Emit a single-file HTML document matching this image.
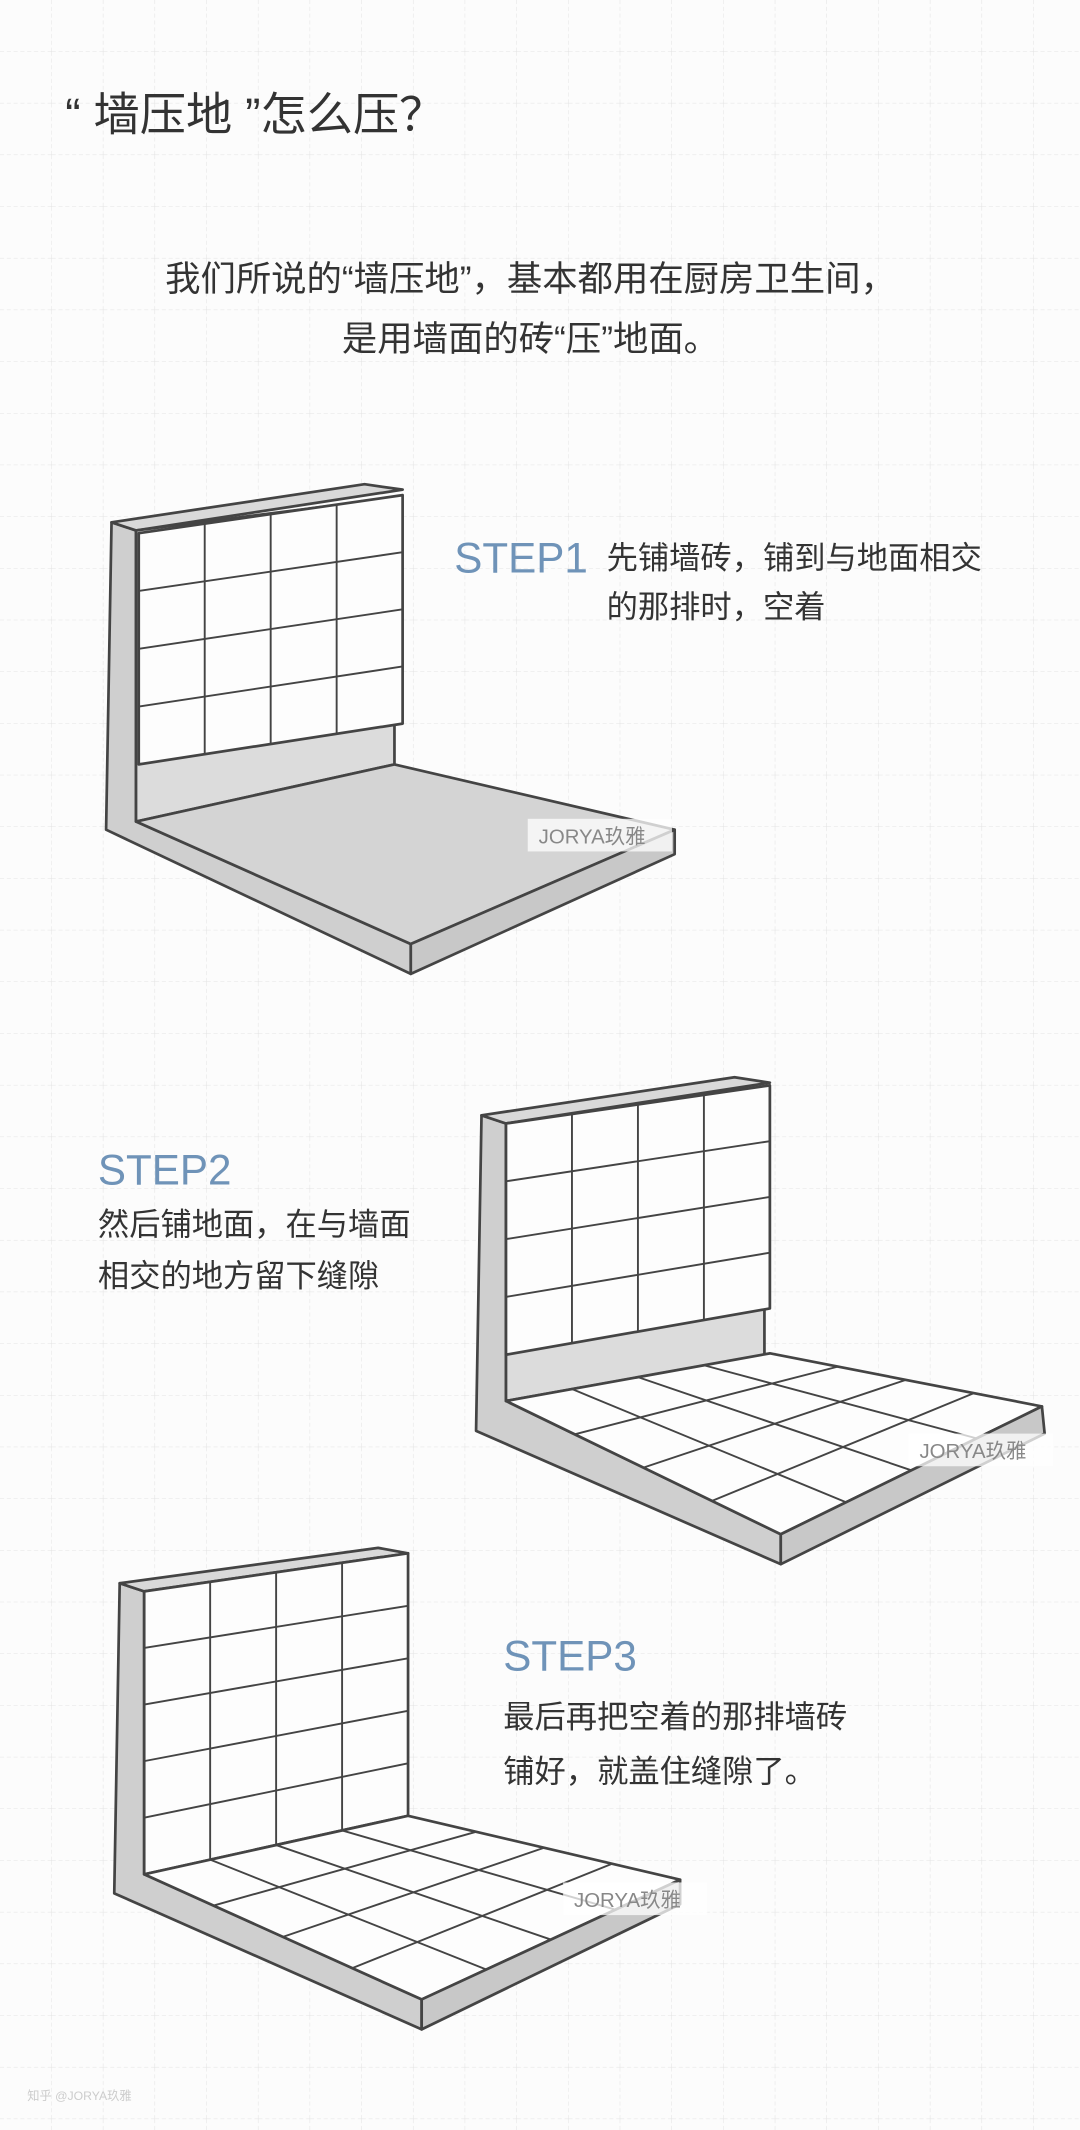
<!DOCTYPE html>
<html><head><meta charset="utf-8"><style>
html,body{margin:0;padding:0;background:#fcfcfc;}
svg{display:block;}
.t{font-family:"Liberation Sans","Noto Sans CJK SC",sans-serif;fill:#333;}
.s{font-family:"Liberation Sans","Noto Sans CJK SC",sans-serif;fill:#6f93b8;}
</style></head><body>
<svg id="sv" width="1080" height="2130" viewBox="0 0 794 1566" preserveAspectRatio="none" xmlns="http://www.w3.org/2000/svg">
<defs>
<pattern id="g" width="38" height="38" patternUnits="userSpaceOnUse">
<path d="M38 0V38M0 38H38" stroke="#e3e3e3" stroke-width="0.8" stroke-dasharray="3 2" fill="none"/>
</pattern>
</defs>
<rect width="794" height="1566" fill="#fcfcfc"/>
<rect width="794" height="1566" fill="url(#g)"/>

<text class="t" x="48" y="96" font-size="34">“ 墙压地 ”怎么压？</text>
<text class="t" x="390" y="214" font-size="26" text-anchor="middle">我们所说的“墙压地”，基本都用在厨房卫生间，</text>
<text class="t" x="390" y="258" font-size="26" text-anchor="middle">是用墙面的砖“压”地面。</text>

<text class="s" x="334" y="421" font-size="31">STEP1</text>
<text class="t" x="446" y="418" font-size="23">先铺墙砖，铺到与地面相交</text>
<text class="t" x="446" y="454" font-size="23">的那排时，空着</text>

<text class="s" x="72" y="871" font-size="31">STEP2</text>
<text class="t" x="72" y="908" font-size="23">然后铺地面，在与墙面</text>
<text class="t" x="72" y="946" font-size="23">相交的地方留下缝隙</text>

<text class="s" x="370" y="1228" font-size="31">STEP3</text>
<text class="t" x="370" y="1270" font-size="23">最后再把空着的那排墙砖</text>
<text class="t" x="370" y="1310" font-size="23">铺好，就盖住缝隙了。</text>

<g id="d" stroke="#444" stroke-width="2" stroke-linejoin="round"></g>
<text x="20" y="1544" font-size="9" fill="#ccc" font-family="Liberation Sans,Noto Sans CJK SC,sans-serif">知乎 @JORYA玖雅</text>
</svg>
<script>
var d=document.getElementById('d'),h='';
function P(pts,f){h+='<polygon points="'+pts.map(p=>p.join(',')).join(' ')+'" fill="'+f+'"/>';}
function L(a,b,w){h+='<line x1="'+a[0]+'" y1="'+a[1]+'" x2="'+b[0]+'" y2="'+b[1]+'" stroke-width="'+(w||1.4)+'"/>';}
function lerp(a,b,t){return [a[0]+(b[0]-a[0])*t,a[1]+(b[1]-a[1])*t];}
function grid(tl,tr,bl,br,nc,nr){
 for(var i=1;i<nc;i++){var t=i/nc;L(lerp(tl,tr,t),lerp(bl,br,t));}
 for(var j=1;j<nr;j++){var t=j/nr;L(lerp(tl,bl,t),lerp(tr,br,t));}
}
function wm(x,y){h+='<rect x="'+x+'" y="'+y+'" width="106" height="24" fill="#fff" fill-opacity="0.75" stroke="none"/><text x="'+(x+8)+'" y="'+(y+18)+'" font-size="15" fill="#888" stroke="none" font-family="Liberation Sans,Noto Sans CJK SC,sans-serif">JORYA玖雅</text>';}

/* Diagram 1 */
P([[82,384],[100,390],[100,604],[302,694],[302,716],[78,610]],'#cfcfcf');
P([[82,384],[268,356],[296,360],[100,390]],'#d9d9d9');
P([[100,390],[290,366],[290,562],[100,604]],'#dcdcdc');
P([[100,604],[290,562],[496,610],[302,694]],'#d4d4d4');
P([[302,694],[496,610],[496,628],[302,716]],'#c8c8c8');
P([[102,392],[296,364],[296,532],[102,562]],'#fdfdfd');
grid([102,392],[296,364],[102,562],[296,532],4,4);
wm(388,602);

/* Diagram 2 */
P([[354,820],[372,826],[372,1030],[574,1128],[574,1150],[350,1052]],'#cfcfcf');
P([[354,820],[540,792],[566,796],[372,826]],'#d9d9d9');
P([[372,826],[562,800],[562,996],[372,1030]],'#dcdcdc');
P([[372,826],[566,798],[566,962],[372,996]],'#fdfdfd');
grid([372,826],[566,798],[372,996],[566,962],4,4);
P([[372,1030],[566,995],[766,1034],[574,1128]],'#fdfdfd');
grid([372,1030],[566,995],[574,1128],[766,1034],4,4);
P([[574,1128],[766,1034],[768,1054],[574,1150]],'#c8c8c8');
wm(668,1054);

/* Diagram 3 */
P([[88,1164],[106,1170],[106,1378],[310,1470],[310,1492],[84,1392]],'#cfcfcf');
P([[88,1164],[278,1138],[300,1142],[106,1170]],'#d9d9d9');
P([[106,1170],[300,1142],[300,1335],[106,1378]],'#fdfdfd');
grid([106,1170],[300,1142],[106,1378],[300,1335],4,5);
P([[106,1378],[300,1335],[500,1382],[310,1470]],'#fdfdfd');
grid([106,1378],[300,1335],[310,1470],[500,1382],4,4);
P([[310,1470],[500,1382],[500,1400],[310,1492]],'#c8c8c8');
wm(414,1384);

d.innerHTML=h;
</script>
</body></html>
